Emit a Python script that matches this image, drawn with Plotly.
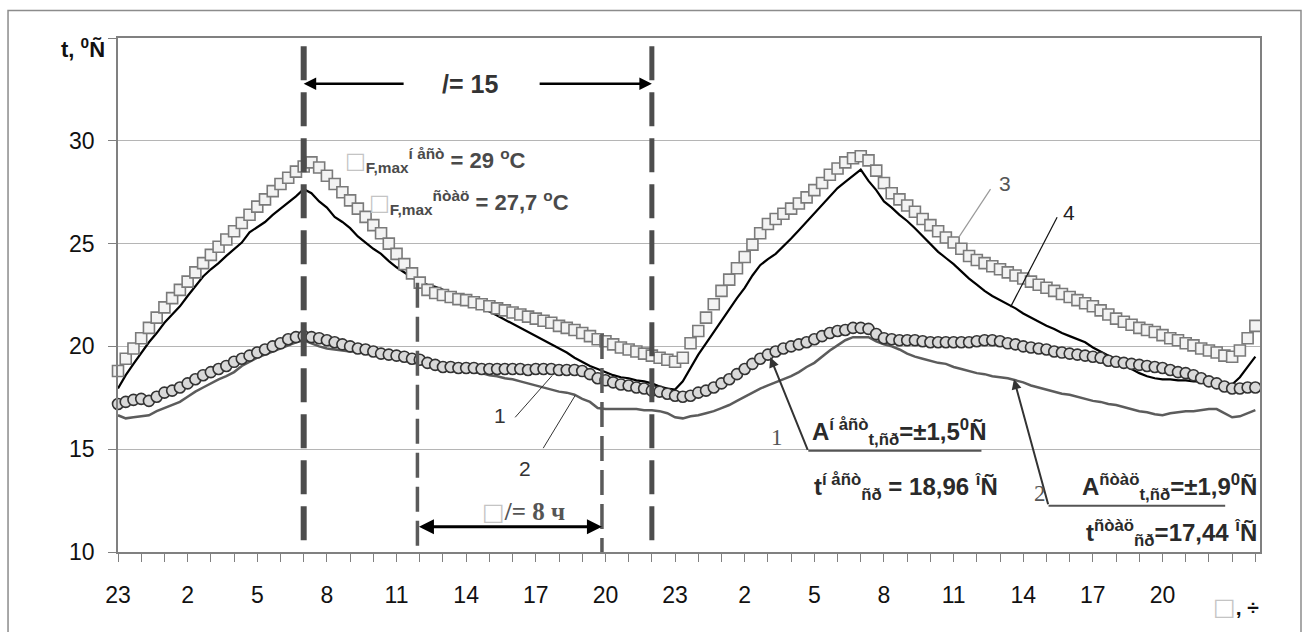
import plotly.graph_objects as go

# ---------------- data (values every 20 min, hour 0 = 23:00) ----------------
STEP_H = 1 / 3

# 3 - squares (upper, unsteady)
sq3 = [
    18.8, 19.4, 19.9, 20.4, 20.9, 21.4, 21.9, 22.35, 22.75, 23.15, 23.6, 24.05,
    24.45, 24.85, 25.2, 25.6, 26.0, 26.4, 26.8, 27.15, 27.55, 27.9, 28.2, 28.5,
    28.75, 28.95, 28.7, 28.3, 27.9, 27.5, 27.1, 26.7, 26.3, 25.9, 25.5, 25.0,
    24.5, 24.0, 23.55, 23.1, 22.75, 22.6, 22.5, 22.4, 22.3, 22.25, 22.15, 22.05,
    21.95, 21.85, 21.75, 21.65, 21.55, 21.45, 21.35, 21.25, 21.15, 21.0, 20.9, 20.8,
    20.65, 20.5, 20.35, 20.25, 20.1, 19.95, 19.85, 19.75, 19.65, 19.55, 19.45, 19.35,
    19.25, 19.45, 20.15, 20.75, 21.4, 22.05, 22.7, 23.25, 23.8, 24.35, 24.95, 25.5,
    25.95, 26.2, 26.45, 26.7, 26.95, 27.25, 27.6, 27.95, 28.35, 28.65, 28.95, 29.15,
    29.25, 29.05, 28.55, 27.95, 27.45, 27.15, 26.85, 26.55, 26.2, 25.9, 25.6, 25.3,
    25.05, 24.75, 24.4, 24.2, 24.05, 23.9, 23.75, 23.6, 23.45, 23.3, 23.15, 23.0,
    22.85, 22.7, 22.55, 22.4, 22.25, 22.1, 21.95, 21.75, 21.55, 21.35, 21.2, 21.05,
    20.9, 20.8, 20.7, 20.55, 20.4, 20.3, 20.15, 20.05, 19.9, 19.8, 19.7, 19.55,
    19.5, 19.8, 20.4, 21.0,
]

# 4 - black line
line4 = [
    17.95, 18.6, 19.15, 19.7, 20.2, 20.65, 21.15, 21.55, 21.95, 22.45, 22.95, 23.4,
    23.75, 24.05, 24.4, 24.75, 25.05, 25.55, 25.8, 26.05, 26.4, 26.7, 27.0, 27.3,
    27.65, 27.45, 27.05, 26.75, 26.3, 26.05, 25.75, 25.35, 25.05, 24.75, 24.5, 24.15,
    23.85, 23.6, 23.35, 23.15, 23.0, 22.9, 22.75, 22.55, 22.4, 22.2, 22.05, 21.85,
    21.7, 21.5, 21.3, 21.1, 20.9, 20.7, 20.5, 20.3, 20.1, 19.9, 19.7, 19.45,
    19.25, 19.05, 18.9, 18.75, 18.6, 18.5, 18.45, 18.35, 18.3, 18.2, 18.05, 17.95,
    17.9, 18.3, 18.95, 19.6, 20.15, 20.7, 21.3, 21.85, 22.35, 22.85, 23.45, 23.95,
    24.25, 24.5, 24.85, 25.25, 25.65, 26.05, 26.45, 26.85, 27.25, 27.7, 28.0, 28.3,
    28.6, 28.05, 27.6, 27.05, 26.75, 26.4, 26.1, 25.75, 25.35, 25.0, 24.6, 24.3,
    24.0, 23.65, 23.3, 23.0, 22.7, 22.45, 22.25, 22.05, 21.85, 21.6, 21.4, 21.2,
    21.0, 20.85, 20.65, 20.5, 20.35, 20.2, 19.95, 19.75, 19.55, 19.35, 19.1, 18.9,
    18.7, 18.55, 18.45, 18.4, 18.4, 18.35, 18.35, 18.3, 18.3, 18.25, 18.2, 18.15,
    18.15, 18.5, 19.0, 19.5,
]

# 1 - circles
circ1 = [
    17.2, 17.3, 17.4, 17.45, 17.35, 17.55, 17.75, 17.85, 18.0, 18.2, 18.4, 18.6,
    18.75, 18.9, 19.05, 19.25, 19.4, 19.55, 19.7, 19.85, 20.0, 20.15, 20.35, 20.45,
    20.5, 20.45, 20.4, 20.3, 20.2, 20.1, 20.0, 19.9, 19.85, 19.75, 19.65, 19.6,
    19.55, 19.5, 19.4, 19.35, 19.2, 19.1, 19.0, 19.0, 18.95, 18.95, 18.95, 18.9,
    18.9, 18.9, 18.9, 18.9, 18.9, 18.85, 18.9, 18.9, 18.9, 18.85, 18.85, 18.85,
    18.8, 18.65, 18.45, 18.35, 18.25, 18.15, 18.1, 18.0, 17.95, 17.85, 17.8, 17.7,
    17.6, 17.55, 17.6, 17.75, 17.85, 18.0, 18.2, 18.4, 18.65, 18.9, 19.15, 19.4,
    19.6, 19.75, 19.9, 20.0, 20.1, 20.2, 20.35, 20.5, 20.65, 20.75, 20.8, 20.9,
    20.9, 20.85, 20.6, 20.4, 20.35, 20.3, 20.3, 20.3, 20.25, 20.2, 20.2, 20.2,
    20.2, 20.2, 20.2, 20.25, 20.3, 20.3, 20.25, 20.15, 20.1, 20.0, 19.95, 19.9,
    19.85, 19.75, 19.7, 19.65, 19.6, 19.55, 19.5, 19.45, 19.3, 19.25, 19.2, 19.15,
    19.1, 19.05, 19.0, 18.95, 18.85, 18.75, 18.7, 18.6, 18.45, 18.3, 18.2, 18.05,
    17.95, 17.95, 18.0, 18.0,
]

# 2 - gray line
line2 = [
    16.65, 16.5, 16.55, 16.6, 16.65, 16.85, 17.0, 17.15, 17.3, 17.55, 17.8, 18.0,
    18.2, 18.4, 18.55, 18.75, 19.05, 19.25, 19.45, 19.6, 19.75, 19.9, 20.05, 20.2,
    20.3, 20.15, 20.0, 19.9, 19.85, 19.8, 19.75, 19.75, 19.7, 19.65, 19.6, 19.5,
    19.45, 19.4, 19.35, 19.3, 19.2, 19.1, 19.05, 19.0, 18.9, 18.85, 18.75, 18.7,
    18.6, 18.55, 18.45, 18.4, 18.3, 18.2, 18.1, 18.0, 17.9, 17.8, 17.75, 17.65,
    17.45, 17.3, 17.0, 16.95, 16.95, 16.95, 16.95, 16.95, 16.9, 16.9, 16.85, 16.75,
    16.55, 16.5, 16.6, 16.65, 16.75, 16.85, 17.0, 17.15, 17.35, 17.55, 17.75, 17.95,
    18.1, 18.25, 18.4, 18.55, 18.75, 19.0, 19.2, 19.5, 19.8, 20.05, 20.3, 20.45,
    20.45, 20.45, 20.25, 20.1, 20.0, 19.85, 19.65, 19.5, 19.4, 19.3, 19.2, 19.15,
    19.0, 18.9, 18.8, 18.7, 18.65, 18.55, 18.5, 18.45, 18.35, 18.25, 18.1, 18.0,
    17.9, 17.8, 17.7, 17.65, 17.55, 17.45, 17.35, 17.3, 17.2, 17.15, 17.05, 16.95,
    16.85, 16.8, 16.7, 16.65, 16.75, 16.8, 16.85, 16.85, 16.9, 16.95, 16.95, 16.75,
    16.55, 16.6, 16.75, 16.9,
]

tick_hours = [0, 3, 6, 9, 12, 15, 18, 21, 24, 27, 30, 33, 36, 39, 42, 45]
tick_text = ["23", "2", "5", "8", "11", "14", "17", "20",
             "23", "2", "5", "8", "11", "14", "17", "20"]
y_ticks = [10, 15, 20, 25, 30, 35]
y_text = ["10", "15", "20", "25", "30", ""]


def hours(vals):
    return [k * STEP_H for k in range(len(vals))]


fig = go.Figure()
fig.add_trace(go.Scatter(x=hours(line2), y=line2, mode="lines",
                         line=dict(color="#5c5c5c", width=2.5), cliponaxis=False))
fig.add_trace(go.Scatter(x=hours(line4), y=line4, mode="lines",
                         line=dict(color="#000000", width=2.2), cliponaxis=False))
fig.add_trace(go.Scatter(x=hours(sq3), y=sq3, mode="markers", cliponaxis=False,
                         marker=dict(symbol="square", size=11, color="#f3f3f3",
                                     line=dict(color="#7a7a7a", width=1.6))))
fig.add_trace(go.Scatter(x=hours(circ1), y=circ1, mode="markers", cliponaxis=False,
                         marker=dict(symbol="circle", size=11, color="#d9d9d9",
                                     line=dict(color="#333333", width=1.6))))

SANS = "Liberation Sans, Arial, sans-serif"
SERIF = "Liberation Serif, Times New Roman, serif"

shapes = [
    # outer frame
    dict(type="rect", xref="paper", yref="paper", x0=-0.0963, x1=1.0359,
         y0=-0.16, y1=1.0535, line=dict(color="#8c8c8c", width=1.5), layer="below"),
    # thick dashed verticals (l = 15)
    dict(type="line", x0=8, x1=8, y0=34.6, y1=10,
         line=dict(color="#4d4d4d", width=6, dash="34px,12px")),
    dict(type="line", x0=23, x1=23, y0=34.6, y1=10,
         line=dict(color="#4d4d4d", width=5, dash="34px,12px")),
    # thinner dashed verticals (dl = 8)
    dict(type="line", x0=12.9, x1=12.9, y0=23.1, y1=10,
         line=dict(color="#5a5a5a", width=3.5, dash="25px,9px")),
    dict(type="line", x0=20.85, x1=20.85, y0=20.6, y1=10,
         line=dict(color="#5a5a5a", width=3.5, dash="25px,9px")),
    # leader lines for 1, 2, 3, 4
    dict(type="line", x0=17.11, y0=16.55, x1=18.71, y1=18.59, line=dict(color="#333", width=1)),
    dict(type="line", x0=18.32, y0=15.05, x1=19.7, y1=17.62, line=dict(color="#333", width=1)),
    dict(type="line", x0=37.59, y0=27.65, x1=36.22, y1=25.3, line=dict(color="#999", width=1.2)),
    dict(type="line", x0=40.46, y0=26.28, x1=38.45, y1=21.91, line=dict(color="#111", width=1.2)),
    # fraction lines
    dict(type="line", x0=29.74, y0=14.92, x1=37.2, y1=14.92, line=dict(color="#555", width=2)),
    dict(type="line", x0=40.09, y0=12.25, x1=47.7, y1=12.25, line=dict(color="#555", width=2)),
]


def arrow(x, y, ax, ay, color="#000", width=2.5, side="end", size=1.0):
    return dict(x=x, y=y, ax=ax, ay=ay, xref="x", yref="y", axref="x", ayref="y",
                text="", showarrow=True, arrowhead=2, arrowsize=size, arrowwidth=width,
                arrowcolor=color, arrowside=side, standoff=0, startstandoff=0,
                startarrowhead=2, startarrowsize=size)


def label(x, y, text, size=22, color="#333", family=SANS, xanchor="center", xref="x", yref="y"):
    return dict(x=x, y=y, xref=xref, yref=yref, text=text, showarrow=False,
                xanchor=xanchor, yanchor="middle",
                font=dict(size=size, color=color, family=family))


def box(px):
    return ("<span style='font-family:DejaVu Sans;font-size:%dpx;color:#c4c4c4;"
            "font-weight:normal'>□</span>" % px)


annotations = [
    arrow(8, 32.77, 12.37, 32.77),
    arrow(23, 32.77, 18.1, 32.77),
    arrow(20.85, 11.23, 12.9, 11.23, width=3, side="end+start"),
    arrow(28.1, 19.47, 29.74, 14.9, color="#333", width=2),
    arrow(38.6, 18.4, 40.09, 12.25, color="#333", width=2),
    label(-0.0096, 0.9805, "<b>t, <sup>0</sup>Ñ</b>", size=22, color="#111",
          xanchor="right", xref="paper", yref="paper"),
    label(1.0009, -0.107, box(24) + "<b>, ÷</b>", size=21, color="#111",
          xanchor="right", xref="paper", yref="paper"),
    label(15.17, 32.77, "<b>/= 15</b>", size=25, color="#333"),
    label(17.46, 11.94, box(24) + "<b>/= 8 ч</b>", size=25, color="#555", family=SERIF),
    label(9.70, 29.03, box(22) + "<b><sub>F,max</sub><sup>í åñò</sup> = 29 <sup>o</sup>C</b>",
          size=22, color="#4a4a4a", xanchor="left"),
    label(10.73, 27.0, box(22) + "<b><sub>F,max</sub><sup>ñòàö</sup> = 27,7 <sup>o</sup>C</b>",
          size=22, color="#4a4a4a", xanchor="left"),
    label(16.47, 16.65, "1", size=21, color="#333"),
    label(17.54, 14.08, "2", size=21, color="#333"),
    label(38.23, 27.9, "3", size=21, color="#555"),
    label(40.96, 26.52, "4", size=21, color="#222"),
    label(28.4, 15.58, "1", size=23, color="#555", family=SERIF),
    label(39.74, 12.86, "2", size=23, color="#555", family=SERIF),
    label(29.83, 15.83, "<b>A<sup>í åñò</sup><sub>t,ñð</sub>=±1,5<sup>0</sup>Ñ</b>",
          size=24, color="#2a2a2a", xanchor="left"),
    label(29.9, 13.16, "<b>t<sup>í åñò</sup><sub>ñð</sub> = 18,96 <sup>î</sup>Ñ</b>",
          size=24, color="#2a2a2a", xanchor="left"),
    label(49.14, 13.16, "<b>A<sup>ñòàö</sup><sub>t,ñð</sub>=±1,9<sup>0</sup>Ñ</b>",
          size=24, color="#2a2a2a", xanchor="right"),
    label(49.14, 10.92, "<b>t<sup>ñòàö</sup><sub>ñð</sub>=17,44 <sup>î</sup>Ñ</b>",
          size=24, color="#2a2a2a", xanchor="right"),
]

fig.update_layout(
    width=1308, height=632,
    margin=dict(l=118, r=48, t=38, b=80),
    paper_bgcolor="white", plot_bgcolor="white",
    showlegend=False,
    font=dict(family=SANS, color="#111"),
    shapes=shapes, annotations=annotations,
)
fig.update_xaxes(
    range=[0, 49.2], showline=True, linecolor="#808080", linewidth=1.5, mirror=True,
    showgrid=False, zeroline=False,
    tickmode="array", tickvals=tick_hours, ticktext=tick_text,
    ticks="outside", ticklen=8, tickcolor="#808080", tickwidth=1,
    tickfont=dict(size=23, color="#111", family=SANS), ticklabelstandoff=14,
    minor=dict(tickmode="array", tickvals=list(range(50)), ticks="outside",
               ticklen=8, tickcolor="#808080", showgrid=False),
)
fig.update_yaxes(
    range=[10, 35], showline=True, linecolor="#808080", linewidth=1.5, mirror=True,
    showgrid=True, gridcolor="#b5b5b5", gridwidth=1, zeroline=False,
    tickmode="array", tickvals=y_ticks, ticktext=y_text,
    ticks="outside", ticklen=8, tickcolor="#808080",
    tickfont=dict(size=23, color="#111", family=SANS), ticklabelstandoff=9,
)

fig.write_html("out.html")
